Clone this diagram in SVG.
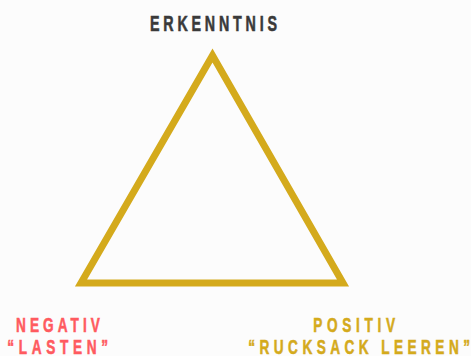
<svg xmlns="http://www.w3.org/2000/svg" width="471" height="356" viewBox="0 0 471 356">
<style>
.t{font-family:"Liberation Sans",Arial,sans-serif;font-weight:bold;font-size:21px;stroke-width:0.6px}
.big{font-size:22px}
.dark{fill:#3a3a3a;stroke:#3a3a3a}
.red{fill:#ff5a5f;stroke:#ff5a5f}
.gold{fill:#d4aa1c;stroke:#d4aa1c}
</style>
<rect width="471" height="356" fill="#fcfcfc"/>
<g id="triangle">
<polygon points="212.5,55.5 81,283 343,283" fill="none" stroke="#d4aa1c" stroke-width="7" stroke-linejoin="miter"/>
</g>
<g id="connectors"></g>
<g id="erkenntnis">
<text class="t big dark" transform="scale(0.65,1)" x="230.8" y="31" textLength="195.4" lengthAdjust="spacing">ERKENNTNIS</text>
</g>
<g id="negativ">
<text class="t red" transform="scale(0.65,1)" x="24.6" y="332.3" textLength="129.2" lengthAdjust="spacing">NEGATIV</text>
<text class="t red" transform="scale(0.65,1)" x="11.2" y="353.8" textLength="154.9" lengthAdjust="spacing">“LASTEN”</text>
</g>
<g id="positiv">
<text class="t gold" transform="scale(0.65,1)" x="482" y="332.3" textLength="125.7" lengthAdjust="spacing">POSITIV</text>
<text class="t gold" transform="scale(0.65,1)" x="382" y="353.8" textLength="341.1" lengthAdjust="spacing">“RUCKSACK LEEREN”</text>
</g>
</svg>
